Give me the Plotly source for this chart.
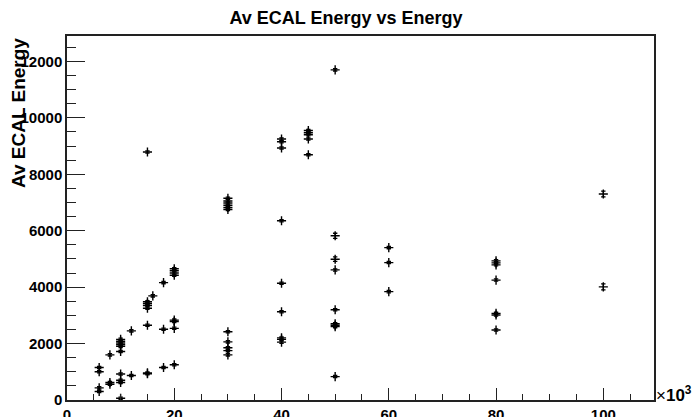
import plotly.graph_objects as go

# Beam energy (x, in units of 10^3) and average ECAL energy (y)
energy = (
    [6, 6, 6, 6]
    + [8, 8, 8]
    + [10] * 10
    + [12, 12]
    + [15] * 8
    + [16]
    + [18, 18, 18]
    + [20] * 8
    + [30] * 11
    + [40] * 9
    + [45] * 5
    + [50] * 9
    + [60] * 3
    + [80] * 7
    + [100, 100]
)
av_ecal = (
    [1150, 1000, 430, 300]
    + [1600, 620, 560]
    + [2150, 2080, 2020, 1960, 1900, 1720, 920, 700, 620, 60]
    + [2450, 870]
    + [8790, 3480, 3420, 3350, 3250, 2650, 960, 930]
    + [3690]
    + [4160, 2510, 1150]
    + [4650, 4580, 4500, 4420, 2830, 2780, 2540, 1250]
    + [7150, 7050, 6980, 6900, 6820, 6750, 2420, 2060, 1850, 1750, 1600]
    + [9250, 9150, 8930, 6350, 4140, 3130, 2200, 2150, 2050]
    + [9550, 9470, 9400, 9250, 8690]
    + [11700, 5820, 4990, 4610, 3200, 2700, 2650, 2600, 830]
    + [5400, 4870, 3840]
    + [4930, 4860, 4790, 4250, 3070, 3010, 2480]
    + [7300, 4010]
)
av_ecal_err = [40] * len(av_ecal)
# larger visible errors
av_ecal_err[-1] = 105
av_ecal_err[-2] = 100
idx50 = energy.index(50)
av_ecal_err[idx50 + 1] = 90
av_ecal_err[idx50 + 2] = 80

y_ticks = [0, 2000, 4000, 6000, 8000, 10000, 12000]
x_ticks = [0, 20, 40, 60, 80, 100]

FONT = "Liberation Sans, Arial, Helvetica, sans-serif"

fig = go.Figure()
fig.add_trace(go.Scatter(
    x=energy, y=av_ecal, mode="markers",
    marker=dict(symbol="cross-thin", size=6.5, color="black",
                line=dict(color="black", width=1.4)),
    error_y=dict(type="data", array=av_ecal_err, visible=True,
                 color="black", thickness=1.3, width=2.2),
    showlegend=False,
))

fig.update_layout(
    width=692, height=417,
    margin=dict(l=67, r=38, t=36, b=17),
    paper_bgcolor="white", plot_bgcolor="white",
    title=dict(text="<b>Av ECAL Energy vs Energy</b>", x=0.5, xref="container",
               xanchor="center", y=1 - 18 / 417, yref="container", yanchor="middle",
               font=dict(family=FONT, size=18, color="black")),
    xaxis=dict(range=[0, 109.45], tickvals=x_ticks, ticktext=[str(v) for v in x_ticks],
               automargin=False,
               ticks="inside", ticklen=12, tickwidth=1.3, tickcolor="#222",
               minor=dict(dtick=5, tick0=0, ticks="inside", ticklen=6,
                          tickwidth=1.3, tickcolor="#222", showgrid=False),
               showline=True, linecolor="#222", linewidth=1.5, mirror=True,
               showgrid=False, zeroline=False,
               tickfont=dict(family=FONT, size=15, color="black", weight="bold")),
    yaxis=dict(range=[0, 12900], tickvals=y_ticks, ticktext=[str(v) for v in y_ticks],
               automargin=False,
               ticks="inside", ticklen=18, tickwidth=1.3, tickcolor="#222",
               minor=dict(dtick=500, tick0=0, ticks="inside", ticklen=9,
                          tickwidth=1.3, tickcolor="#222", showgrid=False),
               showline=True, linecolor="#222", linewidth=1.5, mirror=True,
               showgrid=False, zeroline=False,
               tickfont=dict(family=FONT, size=15, color="black", weight="bold")),
    annotations=[
        dict(text="<b>Av ECAL Energy</b>", textangle=-90, showarrow=False,
             xref="paper", yref="paper", x=-49 / 587, y=1.0,
             xanchor="center", yanchor="top",
             font=dict(family=FONT, size=19, color="black")),
        dict(text="×<b>10<sup>3</sup></b>", showarrow=False,
             xref="paper", yref="paper", x=1.0, y=0.0,
             xanchor="left", yanchor="middle", xshift=0, yshift=6,
             font=dict(family=FONT, size=17, color="black")),
    ],
)

fig.write_html("out.html")
